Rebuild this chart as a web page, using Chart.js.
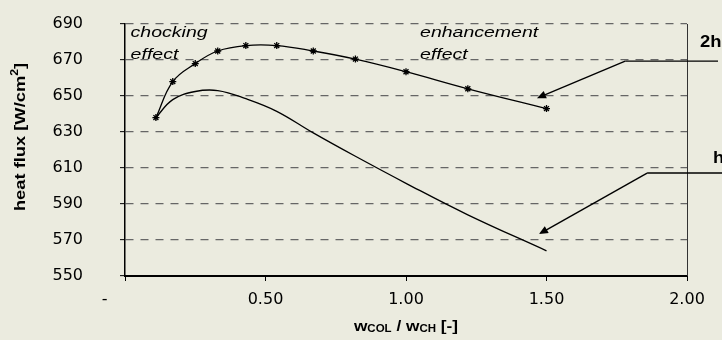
<!DOCTYPE html>
<html>
<head>
<meta charset="utf-8">
<script src="https://cdn.jsdelivr.net/npm/chart.js@4/dist/chart.umd.min.js"></script>
<style>
    html, body { margin: 0; padding: 0; background: #ebebdf; }
    #wrap { width: 722px; height: 340px; }
</style>
</head>
<body>
<div id="wrap"><canvas id="chart" width="722" height="340"></canvas></div>
<script>
// heat flux vs. channel width ratio
const ratio  = [0.11, 0.17, 0.25, 0.33, 0.43, 0.54, 0.67, 0.82, 1.00, 1.22, 1.50];
const flux2h = [638, 658, 668, 675, 678, 678, 675, 670.5, 663.5, 654, 643];
const fluxH  = [638, 648, 652.5, 653, 648.5, 641.5, 629.5, 616.5, 601.5, 584, 564];
const xTicks = [0, 0.5, 1.0, 1.5, 2.0];
const yTicks = [550, 570, 590, 610, 630, 650, 670, 690];

const TICK_FONT = { family: '"DejaVu Sans", sans-serif', size: 16 };
const ARIAL = '"Liberation Sans", Arial, sans-serif';

// draws text stretched horizontally (the original labels are wide)
function wideText(ctx, parts, x, y, sx, align) {
    let w = 0;
    parts.forEach(p => { ctx.font = p.font; w += ctx.measureText(p.text).width; });
    let cx = align === 'center' ? -w / 2 : 0;
    ctx.save();
    ctx.translate(x, y);
    ctx.scale(sx, 1);
    ctx.textBaseline = 'alphabetic';
    ctx.textAlign = 'left';
    parts.forEach(p => {
        ctx.font = p.font;
        ctx.fillText(p.text, cx, p.dy || 0);
        cx += ctx.measureText(p.text).width;
    });
    ctx.restore();
}

function arrow(ctx, x0, y0, x1, y1) {
    const a = Math.atan2(y1 - y0, x1 - x0);
    const len = 9, hw = 4;
    ctx.beginPath();
    ctx.moveTo(x0, y0);
    ctx.lineTo(x1 - len * 0.8 * Math.cos(a), y1 - len * 0.8 * Math.sin(a));
    ctx.stroke();
    ctx.beginPath();
    ctx.moveTo(x1, y1);
    ctx.lineTo(x1 - len * Math.cos(a) + hw * Math.sin(a), y1 - len * Math.sin(a) - hw * Math.cos(a));
    ctx.lineTo(x1 - len * Math.cos(a) - hw * Math.sin(a), y1 - len * Math.sin(a) + hw * Math.cos(a));
    ctx.closePath();
    ctx.fill();
}

const decorations = {
    id: 'decorations',
    beforeDraw(chart) {
        const ctx = chart.ctx;
        ctx.save();
        ctx.fillStyle = '#ebebdf';
        ctx.fillRect(0, 0, chart.width, chart.height);
        ctx.restore();
    },
    afterDraw(chart) {
        const { ctx, chartArea: a, scales: { x, y } } = chart;
        ctx.save();
        ctx.fillStyle = '#000';

        // right frame line
        ctx.strokeStyle = '#333';
        ctx.lineWidth = 1;
        ctx.beginPath();
        ctx.moveTo(a.right + 0.5, a.top);
        ctx.lineTo(a.right + 0.5, a.bottom);
        ctx.stroke();

        // axis titles
        const b15 = 'bold 15px ' + ARIAL;
        const b10 = 'bold 10px ' + ARIAL;
        ctx.save();
        ctx.translate(19, 137);
        ctx.rotate(-Math.PI / 2);
        wideText(ctx, [
            { text: 'heat flux [W/cm', font: b15 },
            { text: '2', font: b10, dy: -7 },
            { text: ']', font: b15 }
        ], 0, 6, 1.22, 'center');
        ctx.restore();

        wideText(ctx, [
            { text: 'w', font: b15 },
            { text: 'COL', font: b10, dy: 1 },
            { text: ' / w', font: b15 },
            { text: 'CH', font: b10, dy: 1 },
            { text: ' [-]', font: b15 }
        ], (a.left + a.right) / 2, 331, 1.15, 'center');

        // italic notes
        const it = 'italic 15px ' + ARIAL;
        wideText(ctx, [{ text: 'chocking', font: it }], x.getPixelForValue(0.02), 37, 1.3, 'left');
        wideText(ctx, [{ text: 'effect', font: it }], x.getPixelForValue(0.02), 59, 1.3, 'left');
        wideText(ctx, [{ text: 'enhancement', font: it }], x.getPixelForValue(1.05), 37, 1.3, 'left');
        wideText(ctx, [{ text: 'effect', font: it }], x.getPixelForValue(1.05), 59, 1.3, 'left');

        // series labels with leader arrows
        ctx.strokeStyle = '#000';
        ctx.lineWidth = 1.4;
        const k1 = { x: x.getPixelForValue(1.78), y: y.getPixelForValue(669.4) };
        ctx.beginPath();
        ctx.moveTo(k1.x, k1.y);
        ctx.lineTo(718, k1.y);
        ctx.stroke();
        arrow(ctx, k1.x, k1.y, x.getPixelForValue(1.466), y.getPixelForValue(648.8));

        const k2 = { x: x.getPixelForValue(1.858), y: y.getPixelForValue(607.2) };
        ctx.beginPath();
        ctx.moveTo(k2.x, k2.y);
        ctx.lineTo(722, k2.y);
        ctx.stroke();
        arrow(ctx, k2.x, k2.y, x.getPixelForValue(1.473), y.getPixelForValue(573.3));

        wideText(ctx, [{ text: '2h', font: 'bold 16px ' + ARIAL }], 700, 47, 1.15, 'left');
        wideText(ctx, [{ text: 'h', font: 'bold 16px ' + ARIAL }], 713, 163, 1.15, 'left');

        ctx.restore();
    }
};

new Chart(document.getElementById('chart'), {
    type: 'line',
    data: {
        datasets: [
            {
                label: '2h',
                data: ratio.map((r, i) => ({ x: r, y: flux2h[i] })),
                borderColor: '#000',
                borderWidth: 1.3,
                tension: 0.4,
                pointStyle: 'star',
                pointRadius: 3.5,
                pointBorderWidth: 1.3,
                pointBorderColor: '#000',
                pointBackgroundColor: '#000'
            },
            {
                label: 'h',
                data: ratio.map((r, i) => ({ x: r, y: fluxH[i] })),
                borderColor: '#000',
                borderWidth: 1.3,
                tension: 0.4,
                pointRadius: 0
            }
        ]
    },
    options: {
        responsive: false,
        devicePixelRatio: 1,
        animation: false,
        layout: { autoPadding: false, padding: { left: 0, right: 35, top: 24, bottom: 0 } },
        plugins: { legend: { display: false }, tooltip: { enabled: false } },
        scales: {
            x: {
                type: 'linear',
                min: 0,
                max: 2,
                afterBuildTicks: s => { s.ticks = xTicks.map(v => ({ value: v })); },
                afterFit: s => { s.height = 64; s.paddingLeft = 0; s.paddingRight = 0; },
                ticks: {
                    font: TICK_FONT,
                    color: '#000',
                    padding: 9,
                    maxRotation: 0,
                    callback: v => v === 0 ? '-        ' : v.toFixed(2)
                },
                grid: { drawOnChartArea: false, tickLength: 5, color: '#000', lineWidth: 1 },
                border: { color: '#000', width: 2 }
            },
            y: {
                min: 550,
                max: 690,
                afterBuildTicks: s => { s.ticks = yTicks.map(v => ({ value: v })); },
                afterFit: s => { s.width = 125; s.paddingTop = 0; s.paddingBottom = 0; },
                ticks: { font: TICK_FONT, color: '#000', padding: 37 },
                grid: {
                    color: c => c.tick && c.tick.value === 550 ? 'rgba(0,0,0,0)' : '#666',
                    lineWidth: 1.3,
                    tickLength: 5,
                    tickColor: '#000',
                    tickWidth: 1
                },
                border: { color: '#000', width: 1.5, dash: [8, 7] }
            }
        }
    },
    plugins: [decorations]
});
</script>
</body>
</html>
